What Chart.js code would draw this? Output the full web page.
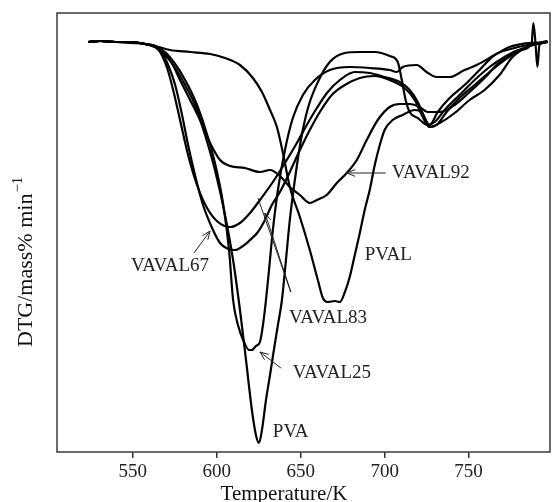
<!DOCTYPE html>
<html><head><meta charset="utf-8">
<script src="https://cdn.jsdelivr.net/npm/chart.js@4.4.1/dist/chart.umd.min.js"></script>
<style>html,body{margin:0;padding:0;background:#fff;}</style>
</head><body>
<canvas id="c" width="552" height="502"></canvas>
<script>
// X axis tick labels (Temperature / K)
const xTicks = [550, 600, 650, 700, 750];

// Series: temperature (K) and DTG (arbitrary, mass% min^-1)
const tPVA = [523.4,530.5,539.5,548.4,557.3,563.3,569.2,575.2,581.1,587.0,593.0,598.9,604.9,609.7,613.8,617.4,620.9,623.3,625.1,626.9,629.3,631.7,634.0,636.4,638.8,641.2,643.5,646.5,650.1,654.3,660.2,667.3,676.3,685.2,694.1,703.0,707.8,710.2,712.5,714.9,719.7,725.6,729.8,735.7,744.6,753.6,762.5,771.4,780.3,787.5,788.6,789.8,791.0,792.2,797.0];
const dPVA = [0,0.1,0,0,-0.2,-0.5,-1.3,-2.6,-4.3,-6.3,-9.3,-12.8,-17.3,-21.8,-26.8,-31.8,-36.8,-39.3,-40.1,-38.8,-35.8,-33.3,-30.8,-28.3,-25.8,-21.8,-17.8,-13.8,-9.8,-6.6,-4.0,-2.0,-1.1,-1.0,-1.0,-1.4,-2.0,-3.8,-5.8,-7.0,-7.6,-8.3,-8.0,-6.8,-5.3,-3.8,-2.5,-1.5,-0.8,-0.2,1.9,0,-2.5,-0.3,0.1];

const tVAVAL25 = [523.4,530.5,539.5,548.4,557.3,563.3,569.2,575.2,581.1,587.0,593.0,598.9,603.7,607.3,609.7,612.6,616.2,619.2,620.9,623.3,625.7,627.5,629.3,631.1,633.4,636.4,640.6,645.3,651.3,658.4,667.3,679.2,691.1,703.0,707.2,710.7,719.1,725.0,731.0,738.7,747.6,754.8,765.5,774.4,786.3,797.0];
const dVAVAL25 = [0,0.1,0,-0.1,-0.2,-0.5,-1.0,-2.2,-3.8,-5.8,-8.6,-12.1,-16.1,-20.8,-25.8,-28.3,-30.0,-30.8,-30.8,-30.4,-30.0,-28.3,-25.8,-22.8,-18.8,-14.8,-10.8,-7.6,-5.3,-3.8,-2.8,-2.5,-2.6,-2.8,-3.0,-2.5,-2.3,-3.0,-3.5,-3.5,-2.8,-2.3,-1.3,-0.5,-0.1,0];

const tVAVAL83 = [523.4,530.5,539.5,548.4,557.3,563.3,566.2,570.4,574.0,578.1,582.9,588.2,594.2,600.7,607.9,613.8,619.8,625.7,633.4,640.6,647.7,653.6,659.6,666.1,673.3,682.2,691.1,700.0,709.0,714.9,719.7,723.8,726.8,731.6,738.7,747.6,756.5,765.5,777.4,788.6,797.0];
const dVAVAL83 = [0,0.1,0,0,-0.2,-0.5,-1.0,-2.6,-4.8,-7.8,-11.3,-14.3,-16.6,-18.0,-18.5,-18.1,-17.1,-15.8,-14.0,-12.1,-10.1,-8.3,-6.6,-5.0,-3.8,-3.0,-3.1,-3.5,-4.0,-4.8,-6.0,-7.6,-8.3,-7.0,-5.6,-4.3,-2.8,-1.3,-0.6,-0.2,0];

const tVAVAL67 = [523.4,530.5,539.5,548.4,557.3,563.3,566.2,571.0,575.2,579.3,582.9,587.0,591.8,597.2,601.9,606.7,610.8,615.6,619.8,624.5,628.7,632.8,637.6,643.5,649.5,655.4,661.4,668.5,676.3,685.2,694.1,703.0,711.9,717.9,722.1,726.8,732.8,741.7,750.6,759.5,768.4,776.2,786.3,797.0];
const dVAVAL67 = [0,0.1,0,0,-0.2,-0.4,-0.8,-2.3,-4.3,-7.3,-10.3,-13.3,-16.3,-18.6,-20.1,-20.7,-20.8,-20.4,-19.8,-19.0,-17.8,-16.3,-15.0,-13.0,-10.8,-8.8,-7.0,-5.3,-4.3,-3.6,-3.4,-3.8,-4.6,-5.8,-7.3,-8.5,-8.1,-7.1,-5.8,-4.8,-3.3,-1.5,-0.4,0];

const tVAVAL92 = [523.4,530.5,539.5,548.4,557.3,563.3,566.2,572.2,578.1,584.1,590.0,596.0,601.9,607.9,616.8,625.7,631.7,637.6,643.5,649.5,655.4,659.6,665.5,671.5,677.4,683.4,689.3,695.9,703.0,709.0,714.9,720.9,725.6,732.8,741.7,750.6,759.5,768.4,777.4,786.3,797.0];
const dVAVAL92 = [0,0.1,0,0,-0.2,-0.4,-0.8,-1.8,-3.8,-5.8,-7.8,-10.1,-11.8,-12.4,-12.6,-13.0,-12.8,-13.4,-14.5,-15.3,-16.1,-15.8,-15.3,-14.1,-13.1,-11.8,-9.8,-7.8,-6.5,-6.2,-6.2,-6.5,-7.0,-7.0,-6.3,-5.0,-3.6,-2.0,-1.0,-0.4,0];

const tPVAL = [523.4,530.5,539.5,548.4,557.3,563.3,572.2,584.1,596.0,604.9,613.8,621.5,626.9,631.7,635.8,639.4,643.5,649.5,655.4,660.2,663.2,666.1,670.3,673.3,676.3,679.2,682.2,685.2,688.1,691.1,694.1,697.1,700.0,704.8,710.7,717.9,722.1,726.8,731.0,736.9,744.6,753.6,762.5,771.4,780.3,788.6,797.0];
const dPVAL = [0,0.1,0,0,-0.2,-0.4,-0.8,-1.0,-1.2,-1.6,-2.3,-3.6,-5.0,-6.8,-8.5,-11.1,-14.5,-17.5,-20.8,-23.8,-25.6,-26.0,-25.9,-26.0,-25.0,-23.5,-21.3,-19.1,-16.8,-14.8,-12.3,-10.3,-8.8,-7.8,-7.3,-6.8,-7.0,-8.5,-8.3,-7.0,-5.6,-4.3,-3.0,-1.8,-0.9,-0.2,0];

// Curve labels: text, anchor temperature, anchor DTG, alignment
const labelText = ['VAVAL92','PVAL','VAVAL67','VAVAL83','VAVAL25','PVA'];
const labelT    = [704.2, 688.1, 595.4, 643.0, 645.3, 633.4];
const labelD    = [-13.1, -21.3, -22.4, -27.6, -33.1, -39.0];
const labelAlign= ['left','left','right','left','left','left'];
// Arrows: from (T,DTG) to (T,DTG)
const arrowFromT = [700.6, 586.4, 638.2];
const arrowFromD = [-13.1, -21.1, -32.6];
const arrowToT   = [677.4, 596.0, 625.7];
const arrowToD   = [-13.1, -18.9, -31.0];
// VAVAL83 double pointer
const ptrFromT = [644.1, 644.1];
const ptrFromD = [-25.0, -25.0];
const ptrToT   = [624.5, 628.7];
const ptrToD   = [-15.6, -17.1];

const series = [
  {name:'PVA', t:tPVA, d:dPVA},
  {name:'VAVAL25', t:tVAVAL25, d:dVAVAL25},
  {name:'VAVAL83', t:tVAVAL83, d:dVAVAL83},
  {name:'VAVAL67', t:tVAVAL67, d:dVAVAL67},
  {name:'VAVAL92', t:tVAVAL92, d:dVAVAL92},
  {name:'PVAL', t:tPVAL, d:dPVAL}
];

const SERIF = '"Liberation Serif", "DejaVu Serif", serif';

function arrow(ctx, x1, y1, x2, y2, head) {
  ctx.beginPath(); ctx.moveTo(x1, y1); ctx.lineTo(x2, y2); ctx.stroke();
  if (head) {
    const a = Math.atan2(y2 - y1, x2 - x1), L = 9, w = 0.38;
    ctx.beginPath();
    ctx.moveTo(x2 - L * Math.cos(a - w), y2 - L * Math.sin(a - w));
    ctx.lineTo(x2, y2);
    ctx.lineTo(x2 - L * Math.cos(a + w), y2 - L * Math.sin(a + w));
    ctx.stroke();
  }
}

const deco = {
  id: 'deco',
  afterDraw(ch) {
    const {ctx, chartArea: a, scales: {x, y}} = ch;
    ctx.save();
    // frame
    ctx.strokeStyle = '#3a3a3a'; ctx.lineWidth = 1.5;
    ctx.strokeRect(a.left, a.top, a.right - a.left, a.bottom - a.top);
    // labels
    ctx.fillStyle = '#222'; ctx.font = '19px ' + SERIF; ctx.textBaseline = 'middle';
    labelText.forEach((s, i) => {
      ctx.textAlign = labelAlign[i];
      ctx.fillText(s, x.getPixelForValue(labelT[i]), y.getPixelForValue(labelD[i]));
    });
    // arrows
    ctx.strokeStyle = '#222'; ctx.lineWidth = 1;
    arrowFromT.forEach((t, i) => arrow(ctx, x.getPixelForValue(t), y.getPixelForValue(arrowFromD[i]),
      x.getPixelForValue(arrowToT[i]), y.getPixelForValue(arrowToD[i]), true));
    ptrFromT.forEach((t, i) => arrow(ctx, x.getPixelForValue(t), y.getPixelForValue(ptrFromD[i]),
      x.getPixelForValue(ptrToT[i]), y.getPixelForValue(ptrToD[i]), i === 1));
    // axis titles
    ctx.fillStyle = '#111';
    ctx.font = '21px ' + SERIF; ctx.textAlign = 'center'; ctx.textBaseline = 'alphabetic';
    ctx.fillText('Temperature/K', 284, 500);
    ctx.translate(32, 347); ctx.rotate(-Math.PI / 2);
    ctx.textAlign = 'left';
    ctx.font = '22px ' + SERIF;
    const main = 'DTG/mass% min';
    ctx.fillText(main, 0, 0);
    const w = ctx.measureText(main).width;
    ctx.font = '15px ' + SERIF;
    ctx.fillText('\u22121', w + 1, -10);
    ctx.restore();
  }
};

new Chart(document.getElementById('c'), {
  type: 'line',
  data: {
    datasets: series.map(s => ({
      label: s.name,
      data: s.t.map((t, i) => ({x: t, y: s.d[i]})),
      borderColor: '#000', borderWidth: 2.2, pointRadius: 0,
      cubicInterpolationMode: 'monotone', fill: false
    }))
  },
  options: {
    responsive: false, animation: false, devicePixelRatio: 1,
    layout: {padding: {top: 13, right: 2, left: 0, bottom: 0}},
    plugins: {legend: {display: false}, tooltip: {enabled: false}},
    scales: {
      x: {
        type: 'linear', min: 504.8, max: 798.5,
        afterBuildTicks: s => { s.ticks = xTicks.map(v => ({value: v})); },
        afterFit: s => { s.height = 50; },
        ticks: {font: {family: SERIF, size: 19}, color: '#222', padding: 3, maxRotation: 0, autoSkip: false},
        grid: {display: true, drawOnChartArea: false, drawTicks: true, tickLength: 6, color: '#333', lineWidth: 1.5},
        border: {display: false}
      },
      y: {
        min: -41.0, max: 2.9,
        afterFit: s => { s.width = 57; },
        ticks: {display: false},
        grid: {display: false},
        border: {display: false}
      }
    }
  },
  plugins: [deco]
});
</script>
</body></html>
